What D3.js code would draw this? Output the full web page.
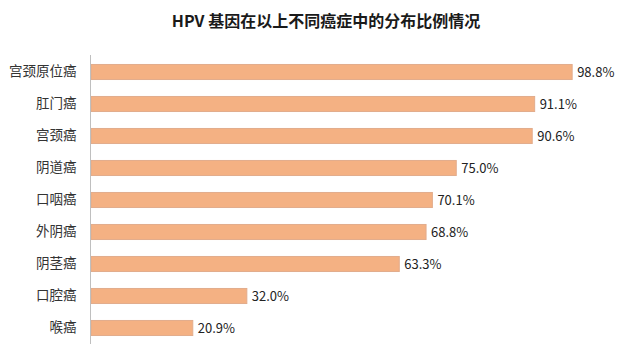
<!DOCTYPE html>
<html><head><meta charset="utf-8">
<script src="https://cdn.jsdelivr.net/npm/d3@7/dist/d3.min.js"></script>
<style>body{margin:0;background:#fff;}svg{display:block;}</style>
</head><body>
<script>
const title = "HPV 基因在以上不同癌症中的分布比例情况";
const categories = ["宫颈原位癌","肛门癌","宫颈癌","阴道癌","口咽癌","外阴癌","阴茎癌","口腔癌","喉癌"];
const values = [98.8, 91.1, 90.6, 75.0, 70.1, 68.8, 63.3, 32.0, 20.9];

const W = 628, H = 357;
const svg = d3.select("body").append("svg").attr("width", W).attr("height", H);
const font = "'Noto Sans CJK SC','Microsoft YaHei',sans-serif";

const x = d3.scaleLinear().domain([0, 100]).range([91, 578]);
const y = d3.scaleBand().domain(categories).range([56, 344]).paddingInner(0.53).paddingOuter(0.265);

svg.append("text").attr("x", 326).attr("y", 27).attr("text-anchor", "middle")
  .attr("font-family", font).attr("font-weight", "bold").attr("font-size", 16)
  .attr("fill", "#1a1a1a").text(title);

svg.selectAll("rect.bar").data(values).enter().append("rect").attr("class","bar")
  .attr("x", x(0)).attr("y", (d,i)=>y(categories[i]))
  .attr("width", d=>x(d)-x(0)).attr("height", y.bandwidth())
  .attr("fill", "#F4B183").attr("stroke", "#E2AC8C").attr("stroke-width", 1);

const yAxis = svg.append("g").attr("transform", `translate(${x(0)-0.5},0)`)
  .call(d3.axisLeft(y).tickSize(0).tickPadding(14));
yAxis.select(".domain").attr("stroke", "#BFBFBF").attr("d", "M0,55V344");
yAxis.selectAll("text").attr("font-family", font).attr("font-size", 13.5).attr("fill", "#333");

svg.selectAll("text.val").data(values).enter().append("text").attr("class","val")
  .attr("x", d=>x(d)+5).attr("y", (d,i)=>y(categories[i])+y.bandwidth()/2)
  .attr("dy", "0.36em").attr("font-family", font).attr("font-size", 13).attr("fill", "#222")
  .text(d=>d.toFixed(1)+"%");
</script>
</body></html>
